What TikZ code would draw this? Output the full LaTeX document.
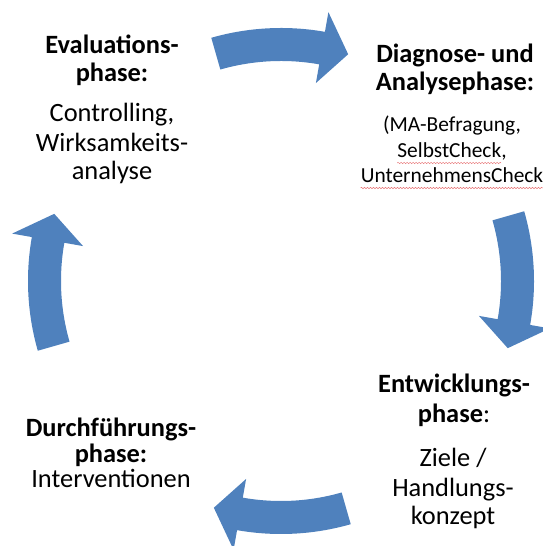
\documentclass[tikz,border=0pt]{standalone}
\usepackage{fontspec}
\setmainfont{Carlito}
\usetikzlibrary{calc,decorations.pathmorphing}

\definecolor{cycleblue}{HTML}{4F81BD}
\definecolor{spellred}{HTML}{E8787A}

\newcommand\bigtext{\fontsize{26.4}{28}\selectfont}
\newcommand\smalltext{\fontsize{21.4}{25.5}\selectfont}

\begin{document}
\begin{tikzpicture}[x=1pt,y=1pt,
    cyclearrow/.style={fill=cycleblue},
    phasehead/.style={align=center, inner sep=0pt, anchor=base, font=\bigtext\bfseries},
    phasetext/.style={align=center, inner sep=0pt, anchor=base, font=\bigtext},
    spellline/.style={draw=spellred, line width=0.5pt,
      decorate, decoration={snake, amplitude=0.7pt, segment length=3pt}}]

\useasboundingbox (0,0) rectangle (542,546);

% four curved arrows around the cycle
\foreach \rot in {0,-90,-180,-270}
  \fill[cyclearrow, shift={(281,265)}, rotate=\rot]
    (106:220pt) -- (106:253pt) arc[start angle=106, end angle=80, radius=253pt]
    -- (80:273pt) -- (73.5:236.5pt) -- (80:201pt) -- (80:220pt)
    arc[start angle=80, end angle=106, radius=220pt] -- cycle;

% phases (base = baseline of the last line)
\node[phasehead] (evalhead) at (112,464) {Evaluations-\\phase:};
\node[phasetext] (evaltext) at (112,366) {Controlling,\\[2pt]Wirksamkeits-\\analyse};

\node[phasehead] (diaghead) at (455,455) {Diagnose- und\\Analysephase:};
\node[phasetext, font=\smalltext] (diagtext) at (452,363)
  {(MA-Befragung,\\SelbstCheck,\\UnternehmensCheck};

\node[phasehead] (entwhead) at (454,123) {Entwicklungs-\\[2pt]phase\mdseries:};
\node[phasetext] (entwtext) at (453,21) {Ziele /\\[2pt]Handlungs-\\konzept};

\node[phasehead] (durchhead) at (111,83) {Durchführungs-\\[-2pt]phase:};
\node[phasetext] (durchtext) at (111,58) {Interventionen};

% spell check marks
\draw[spellline] ($(diagtext.base)+(-54.8,20)$) -- ++(104,0);
\draw[spellline] ($(diagtext.base)+(-91.5,-5)$) -- ++(183,0);
\end{tikzpicture}
\end{document}
